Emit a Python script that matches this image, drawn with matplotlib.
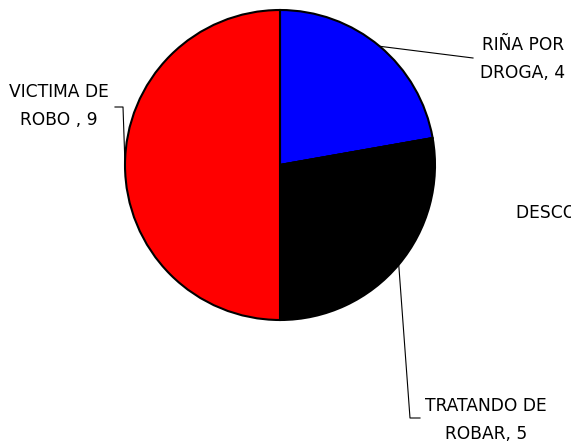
import numpy as np
import matplotlib.pyplot as plt

labels = ['RIÑA POR\nDROGA, 4', 'DESCONOCIDO, 0', 'TRATANDO DE\nROBAR, 5', 'VICTIMA DE\nROBO , 9']
values = [4, 0, 5, 9]
colors = ['#0000ff', '#ffffff', '#000000', '#ff0000']

# pie centre and radius in pixels of the 571x444 image
cx, cy, r = 280, 165, 155

def px(x, y):
    return (x - cx) / r, (cy - y) / r

fig = plt.figure(figsize=(5.71, 4.44), dpi=100)
ax = fig.add_axes([0, 0, 1, 1])
wedges, _ = ax.pie(values, colors=colors, startangle=90, counterclock=False,
                   radius=1, wedgeprops=dict(edgecolor='black', linewidth=1.5))
ax.set_xlim(px(0, 0)[0], px(571, 0)[0])
ax.set_ylim(px(0, 444)[1], px(0, 0)[1])
ax.set_aspect('equal')
ax.axis('off')

def anchor(w):
    a = np.deg2rad((w.theta1 + w.theta2) / 2)
    return np.cos(a), np.sin(a)

font = dict(fontsize=12.3, family='DejaVu Sans', color='black', linespacing=1.65)

# RIÑA POR DROGA
x0, y0 = anchor(wedges[0])
x1, y1 = px(473, 58)
ax.plot([x0, x1], [y0, y1], color='black', lw=0.8)
ax.text(*px(523, 59), labels[0], ha='center', va='center', **font)

# DESCONOCIDO (zero slice, label only; the original is cut at the right edge)
ax.text(*px(516, 213), labels[1], ha='left', va='center', **font)

# TRATANDO DE ROBAR
x0, y0 = anchor(wedges[2])
pts = [(x0, y0), px(410, 418), px(420, 418)]
ax.plot([p[0] for p in pts], [p[1] for p in pts], color='black', lw=0.8)
ax.text(*px(486, 420), labels[2], ha='center', va='center', **font)

# VICTIMA DE ROBO
x0, y0 = anchor(wedges[3])
pts = [(x0, y0), px(123, 107), px(115, 107)]
ax.plot([p[0] for p in pts], [p[1] for p in pts], color='black', lw=0.8, zorder=0)
ax.text(*px(59, 106), labels[3], ha='center', va='center', **font)

fig.savefig('out.png', dpi=100)
